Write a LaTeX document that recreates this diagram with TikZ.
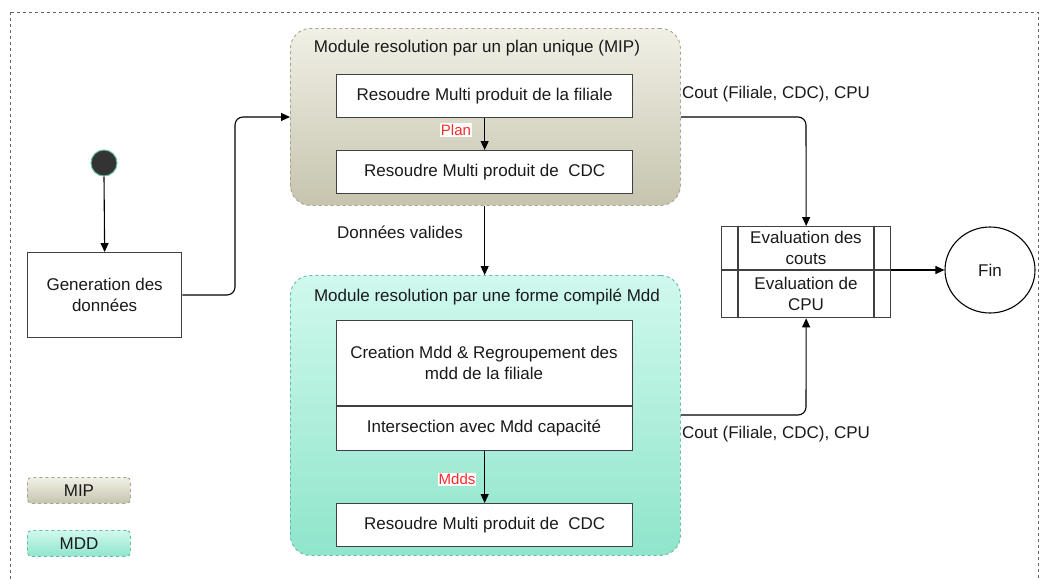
\documentclass[tikz,border=0pt]{standalone}
\usepackage{fontspec}
\setmainfont{Liberation Sans}
\usetikzlibrary{arrows.meta,shapes.geometric,shapes.multipart}
\definecolor{miptop}{HTML}{F1F0E6}
\definecolor{mipbot}{HTML}{C6C4AE}
\definecolor{mipline}{HTML}{A8A48C}
\definecolor{mddtop}{HTML}{D0F9EE}
\definecolor{mddbot}{HTML}{8FE5CB}
\definecolor{mddline}{HTML}{66BBA2}
\definecolor{txt}{HTML}{1A1A1A}
\definecolor{lblred}{HTML}{FF2A2A}
\begin{document}
\begin{tikzpicture}[x=1pt,y=-1pt,
  font=\fontsize{17}{21}\selectfont,
  every node/.style={text=txt},
  box/.style={draw=black!75,line width=1.3pt,fill=white,inner sep=0pt},
  cont/.style={draw,dashed,line width=0.9pt,rounded corners=20pt,inner sep=0pt},
  legend/.style={draw,dashed,line width=0.9pt,rounded corners=4pt,inner sep=0pt,minimum width=103pt,minimum height=26pt},
  conn/.style={draw=black,line width=1.1pt,-{Triangle[length=9pt,width=8pt]},rounded corners=8pt},
  redlbl/.style={fill=white,inner sep=1pt,text=lblred,font=\fontsize{15}{17}\selectfont}
]
\useasboundingbox (0,0) rectangle (1044,579);
\begin{scope}
\clip (0,0) rectangle (1044,579);
\draw[black!60,dashed,line width=1pt] (10,12) rectangle (1038,600);
\end{scope}

% containers
\node[cont,draw=mipline,top color=miptop,bottom color=mipbot,minimum width=390pt,minimum height=177pt,anchor=north west] (mip) at (290,28) {};
\node[anchor=center] (miplbl) at (477,48) {Module resolution par un plan unique (MIP)};
\node[cont,draw=mddline,top color=mddtop,bottom color=mddbot,minimum width=390pt,minimum height=280pt,anchor=north west] (mdd) at (290,275) {};
\node[anchor=center] (mddlbl) at (487,297) {Module resolution par une forme compilé Mdd};

% MIP inner boxes
\node[box,minimum width=296pt,minimum height=43pt,anchor=north west] (b1) at (336,74) {};
\node (b1t) at (b1.center) {Resoudre Multi produit de la filiale};
\node[box,minimum width=296pt,minimum height=43pt,anchor=north west] (b2) at (336,150) {};
\node (b2t) at (b2.center) {Resoudre Multi produit de\ \ CDC};
\draw[conn] (b1.south) -- (b2.north);
\node[redlbl] (plan) at (456,130) {Plan};

% MDD inner boxes
\node[box,minimum width=296pt,minimum height=130pt,anchor=north west] (b3) at (336,320) {};
\draw[black!75,line width=1.3pt] (336,406) -- (632,406);
\node[align=center] (b3t) at (484,363) {Creation Mdd \& Regroupement des\\mdd de la filiale};
\node (b4t) at (484,428) {Intersection avec Mdd capacité};
\node[box,minimum width=296pt,minimum height=43pt,anchor=north west] (b5) at (336,503) {};
\node (b5t) at (b5.center) {Resoudre Multi produit de\ \ CDC};
\draw[conn] (b3.south) -- (b5.north);
\node[redlbl] (mdds) at (457,479) {Mdds};

% between modules
\draw[conn] (mip.south -| b2.south) -- (mdd.north -| b2.south);
\node (dv) at (400,232) {Données valides};

% start
\node[circle,fill=black!80,draw=mddline,line width=1pt,minimum size=26pt,inner sep=0pt] (start) at (104,163) {};
\node[box,minimum width=154pt,minimum height=85pt,anchor=north west] (gen) at (27,252) {};
\node[align=center] (gent) at (gen.center) {Generation des\\données};
\draw[conn] (start.south) -- (gen.north);
\coordinate (g1) at (235,295);
\draw[conn] (gen.east |- g1) -- (g1) -- (235,117) -- (mip.west |- 0,117);

% evaluation
\node[box,minimum width=169pt,minimum height=91pt,anchor=north west] (ev) at (721,226) {};
\draw[black!75,line width=1.2pt] (738,226) -- (738,317) (874,226) -- (874,317) (721,270) -- (890,270);
\node[align=center] (ev1) at (806,248) {Evaluation des\\couts};
\node[align=center] (ev2) at (806,294) {Evaluation de\\CPU};

\draw[conn] (mip.east |- 0,117) -- (806,117) -- (ev.north);
\node (c1) at (776,94) {Cout (Filiale, CDC), CPU};
\draw[conn] (mdd.east |- 0,415) -- (806,415) -- (ev.south);
\node (c2) at (776,434) {Cout (Filiale, CDC), CPU};

\node[ellipse,draw=black,line width=1.1pt,minimum width=90pt,minimum height=86pt,inner sep=0pt] (fin) at (990,270) {Fin};
\draw[conn] (ev.east |- fin.west) -- (fin.west);

% legend
\node[legend,draw=mipline,top color=miptop,bottom color=mipbot,anchor=north west] (lmip) at (27,477) {MIP};
\node[legend,draw=mddline,top color=mddtop,bottom color=mddbot,anchor=north west] (lmdd) at (27,530) {MDD};
\end{tikzpicture}
\end{document}
